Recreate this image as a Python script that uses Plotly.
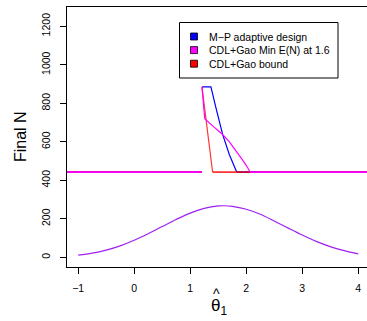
import plotly.graph_objects as go

# ---------------- data ----------------
baseline_N = 443
# M-P adaptive design (blue)
mp_x = [1.21, 1.37, 1.46, 1.58, 1.70, 1.83]
mp_y = [885, 885, 776, 637, 533, 443]
# CDL+Gao Min E(N) at 1.6 (magenta)
cdl_x = [1.21, 1.26, 1.40, 1.575, 1.70, 1.825, 1.94, 2.00, 2.07]
cdl_y = [885, 720, 683, 639, 600, 552, 504, 478, 443]
# CDL+Gao bound (red)
bd_x = [1.21, 1.40]
bd_y = [885, 443]
# scaled density of theta-hat (purple)
dens_x = [-1, -0.75, -0.5, -0.25, 0, 0.25, 0.5, 0.75, 1, 1.25, 1.5, 1.6,
          1.75, 2, 2.25, 2.5, 2.75, 3, 3.25, 3.5, 3.75, 4]
dens_y = [12, 22, 38, 60, 89, 123, 160, 197, 230, 254, 267, 268,
          265, 250, 224, 189, 152, 116, 83, 56, 35, 18]

x_ticks = [-1, 0, 1, 2, 3, 4]
y_ticks = [0, 200, 400, 600, 800, 1000, 1200]
legend_labels = ["M\u2212P adaptive design", "CDL+Gao Min E(N) at 1.6", "CDL+Gao bound"]
x_outer = [-2, 5]

BLUE, MAG, RED, PURP = "#0000FF", "#FF00FF", "#FF0000", "#A020F0"
FONT = "Liberation Sans, Arial, Helvetica, sans-serif"

fig = go.Figure()

def design(xs, ys, color, opacity=1.0):
    # left baseline
    fig.add_trace(go.Scatter(x=[x_outer[0], xs[0]], y=[baseline_N, baseline_N], mode="lines",
                             line=dict(color=color, width=1.8), opacity=opacity,
                             showlegend=False, hoverinfo="skip"))
    # zone curve
    fig.add_trace(go.Scatter(x=xs, y=ys, mode="lines",
                             line=dict(color=color, width=1.2), opacity=opacity,
                             showlegend=False, hoverinfo="skip"))
    # right baseline
    fig.add_trace(go.Scatter(x=[xs[-1], x_outer[1]], y=[baseline_N, baseline_N], mode="lines",
                             line=dict(color=color, width=1.8), opacity=opacity,
                             showlegend=False, hoverinfo="skip"))

design(mp_x, mp_y, BLUE)
design(bd_x, bd_y, RED, 0.8)
design(cdl_x, cdl_y, MAG)

fig.add_trace(go.Scatter(x=dens_x, y=dens_y, mode="lines", line=dict(color=PURP, width=1.2, shape="spline"),
                         showlegend=False, hoverinfo="skip"))

W, H = 367, 321
L, R, T, B = 67, 0, 7, 54
pw, ph = W - L - R, H - T - B

def px(x):
    return (x - L) / pw

def py(y):
    return (H - B - y) / ph

shapes = []
annotations = []
# legend box
shapes.append(dict(type="rect", xref="paper", yref="paper", x0=px(179.5), x1=px(338), y0=py(78), y1=py(22.5),
                   line=dict(color="black", width=1), fillcolor="white", layer="above"))
for i, (lab, col) in enumerate(zip(legend_labels, [BLUE, MAG, RED])):
    cy = 36.5 + i * 13.6
    shapes.append(dict(type="rect", xref="paper", yref="paper", x0=px(190.5), x1=px(197.5),
                       y0=py(cy + 3.5), y1=py(cy - 3.5), line=dict(color="black", width=0.8),
                       fillcolor=col, layer="above"))
    annotations.append(dict(xref="paper", yref="paper", x=px(207), y=py(cy), text=lab, showarrow=False,
                            xanchor="left", yanchor="middle", font=dict(size=10.5, color="black", family=FONT)))

annotations.append(dict(xref="paper", yref="paper", x=px(20), y=py(137), text="Final N", textangle=-90,
                        showarrow=False, xanchor="center", yanchor="middle",
                        font=dict(size=16, color="black", family=FONT)))
# x-axis title: theta-hat with subscript 1
annotations.append(dict(xref="paper", yref="paper", x=px(219), y=py(306.5), text="\u03b8<sub>1</sub>",
                        showarrow=False, xanchor="center", yanchor="middle",
                        font=dict(size=17, color="black", family=FONT)))
annotations.append(dict(xref="paper", yref="paper", x=px(216), y=py(294), text="^",
                        showarrow=False, xanchor="center", yanchor="middle",
                        font=dict(size=14, color="black", family=FONT)))

fig.update_layout(
    width=W, height=H, margin=dict(l=L, r=R, t=T, b=B),
    paper_bgcolor="white", plot_bgcolor="white",
    font=dict(family=FONT, size=10.5, color="black"),
    shapes=shapes, annotations=annotations, showlegend=False,
)
fig.update_xaxes(range=[-1.2, -1.2 + 300 / 56], tickmode="array", tickvals=x_ticks,
                 ticktext=["\u22121" if v < 0 else str(v) for v in x_ticks],
                 showgrid=False, zeroline=False, showline=True, mirror=True, linecolor="black", linewidth=1,
                 ticks="outside", ticklen=6, tickcolor="black", tickwidth=1, ticklabelstandoff=5,
                 tickfont=dict(size=10.5, color="black", family=FONT))
fig.update_yaxes(range=[-50, 1300], tickmode="array", tickvals=y_ticks,
                 showgrid=False, zeroline=False, showline=True, mirror=False, linecolor="black", linewidth=1,
                 ticks="outside", ticklen=6, tickcolor="black", tickwidth=1, tickangle=-90, ticklabelstandoff=6,
                 tickfont=dict(size=10.5, color="black", family=FONT))

fig.write_html("out.html")
